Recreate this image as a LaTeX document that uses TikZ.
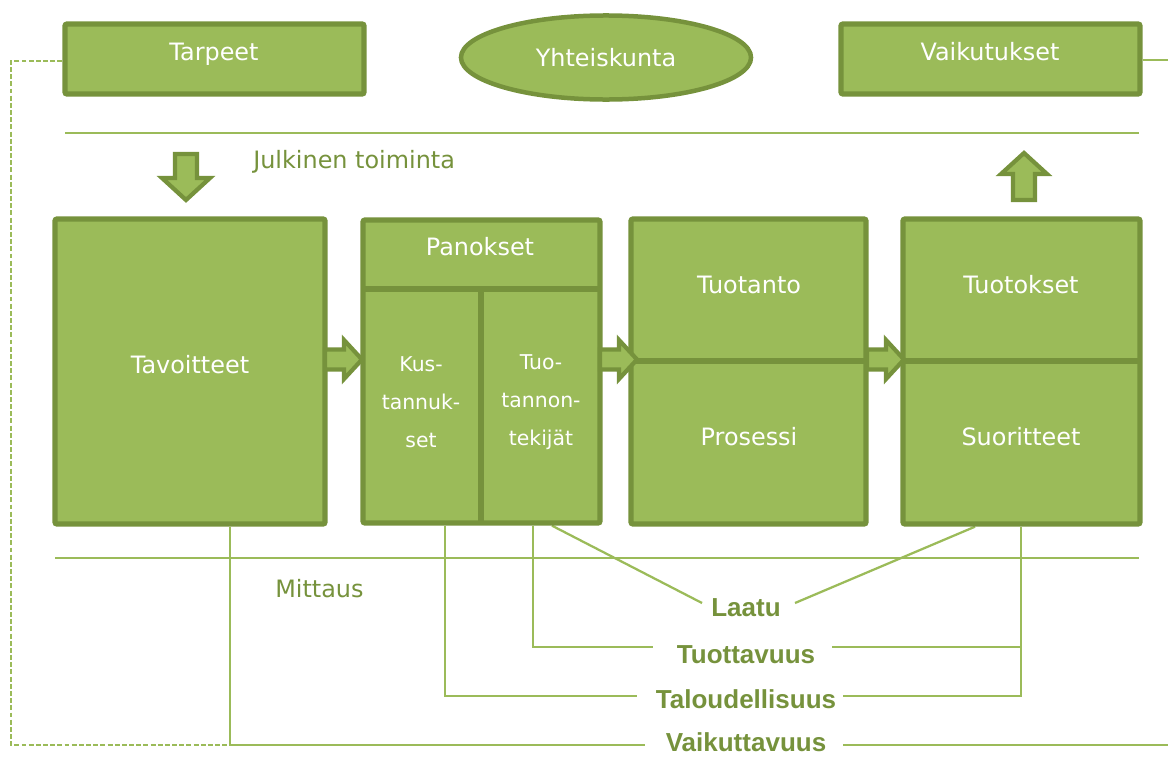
\documentclass[tikz,border=0pt]{standalone}
\usepackage{fontspec}
\setmainfont{DejaVu Sans}
\newfontfamily\labfont{Liberation Sans}
\usetikzlibrary{shapes.geometric,fit,calc}
\definecolor{gfill}{HTML}{9BBB59}
\definecolor{gdark}{HTML}{76923C}
\definecolor{gline}{HTML}{9BBB59}
\tikzset{
  box/.style={draw=gdark, fill=gfill, line width=3.8pt, rounded corners=1.5pt, inner sep=0pt},
  divline/.style={draw=gdark, line width=3.8pt},
  wtext/.style={text=white, font=\fontsize{17}{20}\selectfont, inner sep=0pt, anchor=base},
  ctext/.style={text=white, font=\fontsize{14.5}{27}\selectfont, align=center, inner sep=0pt},
  gtext/.style={text=gdark, font=\fontsize{17}{20}\selectfont, inner sep=0pt, anchor=base west},
  btext/.style={text=gdark, font=\labfont\bfseries\fontsize{18.5}{20}\selectfont, inner sep=0pt, anchor=base},
  conn/.style={draw=gline, line width=1.6pt},
  dconn/.style={draw=gline, line width=1.6pt, dash pattern=on 3.5pt off 1.6pt},
  barrow/.style={draw=gdark, fill=gfill, line width=3pt, line join=miter}
}
\begin{document}
\begin{tikzpicture}[x=0.025cm, y=-0.025cm]
\useasboundingbox (0,0) rectangle (1168,756);

% named coordinates for free connector ends
\coordinate (laL) at (702,603);
\coordinate (laR) at (795,603);
\coordinate (tpL) at (653,647);
\coordinate (tpR) at (832,647);
\coordinate (tlL) at (637,696);
\coordinate (tlR) at (843,696);
\coordinate (vkL) at (645,745);
\coordinate (vkR) at (843,745);
\coordinate (edgeTop) at (1170,60);
\coordinate (edgeBot) at (1170,745);
\coordinate (dashCorner) at (11,745);
\coordinate (vkJoin) at (230,745);
\coordinate (ttJoin) at (1021,647);
\coordinate (jtL) at (65,133);
\coordinate (jtR) at (1139,133);
\coordinate (mtL) at (55,558);
\coordinate (mtR) at (1139,558);

% box corners
\path (65,24) coordinate (tarA) (364,94) coordinate (tarB);
\path (841,24) coordinate (vaiA) (1140,94) coordinate (vaiB);
\path (55,219) coordinate (tavA) (325,524) coordinate (tavB);
\path (363,220) coordinate (panA) (600,523) coordinate (panB);
\path (631,219) coordinate (tuoA) (866,524) coordinate (tuoB);
\path (903,219) coordinate (totA) (1140,524) coordinate (totB);

% separator lines
\draw[conn] (jtL) -- (jtR);
\draw[conn] (mtL) -- (mtR);

% invisible nodes giving the boxes names and anchors
\node[box, fit=(tarA)(tarB), draw=none, fill=none] (tarpeet) {};
\node[box, fit=(vaiA)(vaiB), draw=none, fill=none] (vaikutukset) {};
\node[box, fit=(tavA)(tavB), draw=none, fill=none] (tavoitteet) {};
\node[box, fit=(panA)(panB), draw=none, fill=none] (panokset) {};
\node[box, fit=(tuoA)(tuoB), draw=none, fill=none] (tuotanto) {};
\node[box, fit=(totA)(totB), draw=none, fill=none] (tuotokset) {};

% thin connectors (behind boxes)
\draw[dconn] ([yshift=-0.05cm]tarpeet.west) -| (dashCorner) -- (vkJoin);
\draw[conn] (tavoitteet.south -| vkJoin) -- (vkJoin) -- (vkL);
\draw[conn] (vkR) -- (edgeBot);
\draw[conn] (vaikutukset.east |- edgeTop) -- (edgeTop);

\draw[conn] (panokset.south -| 445,0) |- (tlL);
\draw[conn] (tlR) -| (tuotokset.south -| ttJoin);
\draw[conn] (panokset.south -| 533,0) |- (tpL);
\draw[conn] (tpR) -- (ttJoin);
\draw[conn] (panokset.south -| 552,0) -- (laL);
\draw[conn] (laR) -- (tuotokset.south -| 975,0);

% boxes
\draw[box] (tarA) rectangle (tarB);
\draw[box] (vaiA) rectangle (vaiB);
\draw[box] (tavA) rectangle (tavB);
\draw[box] (panA) rectangle (panB);
\draw[box] (tuoA) rectangle (tuoB);
\draw[box] (totA) rectangle (totB);
\draw[divline] (panA |- 0,289) -- (panB |- 0,289);
\draw[divline] (481,289) -- (481,0 |- panB);
\draw[divline] (tuoA |- 0,361) -- (tuoB |- 0,361);
\draw[divline] (totA |- 0,361) -- (totB |- 0,361);

\node[ellipse, draw=gdark, fill=gfill, line width=3.2pt, minimum width=7.25cm, minimum height=2.1cm, inner sep=0pt,
      text=white, font=\fontsize{17}{20}\selectfont] (yhteiskunta) at (606,57.5) {Yhteiskunta};

% block arrows
\draw[barrow] (175,154) -- (197,154) -- (197,178) -- (210,178) -- (186,200) -- (162,178) -- (175,178) -- cycle;
\draw[barrow] (1013,200) -- (1035,200) -- (1035,174) -- (1047,174) -- (1024,153) -- (1001,174) -- (1013,174) -- cycle;
\foreach \dx in {0,275,542}{
  \begin{scope}[shift={(\dx,0)}]
    \draw[barrow] (325,349.5) -- (344,349.5) -- (344,340) -- (362,359.5) -- (344,379) -- (344,369.5) -- (325,369.5) -- cycle;
  \end{scope}
}

% box texts
\node[wtext] (tarpeetT) at (214,60) {Tarpeet};
\node[wtext] (vaikutuksetT) at (990,60) {Vaikutukset};
\node[wtext] (tavoitteetT) at (190,373) {Tavoitteet};
\node[wtext] (panoksetT) at (480,255) {Panokset};
\node[ctext] (kusT) at (421,402) {Kus-\\tannuk-\\set};
\node[ctext] (tekT) at (541,402) {Tuo-\\tannon-\\tekijät};
\node[wtext] (tuotantoT) at (749,293) {Tuotanto};
\node[wtext] (prosessiT) at (749,445) {Prosessi};
\node[wtext] (tuotoksetT) at (1021,293) {Tuotokset};
\node[wtext] (suoritteetT) at (1021,445) {Suoritteet};

% side labels
\node[gtext] (julkinen) at (253,168) {Julkinen toiminta};
\node[gtext] (mittaus) at (275,597) {Mittaus};

% measure labels
\node[btext] (laatu) at (746,616) {Laatu};
\node[btext] (tuottavuus) at (746,663) {Tuottavuus};
\node[btext] (taloudellisuus) at (746,708) {Taloudellisuus};
\node[btext] (vaikuttavuus) at (746,751) {Vaikuttavuus};
\end{tikzpicture}
\end{document}
